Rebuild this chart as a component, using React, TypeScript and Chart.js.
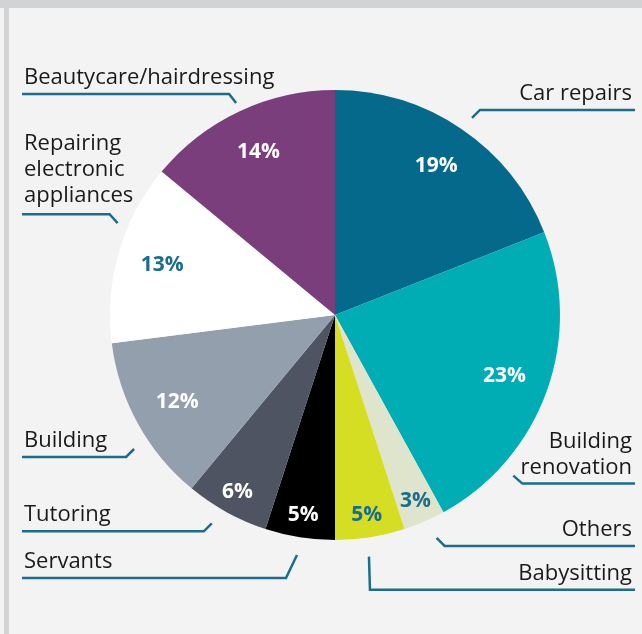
import React, { useEffect, useRef } from "react";
import { Chart, registerables } from "chart.js";

Chart.register(...registerables);

const categories = [
  "Car repairs",
  "Building renovation",
  "Others",
  "Babysitting",
  "Servants",
  "Tutoring",
  "Building",
  "Repairing electronic appliances",
  "Beautycare/hairdressing",
];
const shares = [19, 23, 3, 5, 5, 6, 12, 13, 14];
const sliceColors = [
  "#05698c",
  "#00adb4",
  "#dfe4cd",
  "#d5de22",
  "#000000",
  "#4e5461",
  "#949fae",
  "#ffffff",
  "#7b3e7d",
];
const TEAL = "#1b6d8d";
const pctColors = ["#fff", "#fff", TEAL, TEAL, "#fff", "#fff", "#fff", TEAL, "#fff"];
const labelLines = [
  ["Car repairs"],
  ["Building", "renovation"],
  ["Others"],
  ["Babysitting"],
  ["Servants"],
  ["Tutoring"],
  ["Building"],
  ["Repairing", "electronic", "appliances"],
  ["Beautycare/hairdressing"],
];

// leader-line layout (annotation geometry relative to the pie)
const leaderLayout = [
  { side: "right", angle: 34.8, gap: 15, dx: 8, dy: -8 },
  { side: "right", angle: 132, gap: 15, dx: 9, dy: 8 },
  { side: "right", angle: 155.5, gap: 20, dx: 8, dy: 8 },
  { side: "right", angle: 172, gap: 19, dx: 1, dy: 33 },
  { side: "left", angle: 189, gap: 18, dx: -11, dy: 23 },
  { side: "left", angle: 210.6, gap: 17, dx: -8, dy: 8 },
  { side: "left", angle: 236.3, gap: 16.5, dx: -8, dy: 8 },
  { side: "left", angle: 292.9, gap: 11, dx: -8, dy: -9 },
  { side: "left", angle: 335, gap: 9, dx: -7, dy: -9 },
];

const FONT = "'Open Sans', sans-serif";

const annotate = {
  id: "annotate",
  afterDatasetsDraw(chart: any) {
    const ctx = chart.ctx;
    const meta = chart.getDatasetMeta(0);
    ctx.save();
    // percentage labels
    meta.data.forEach((arc: any, i: number) => {
      const mid = (arc.startAngle + arc.endAngle) / 2;
      const frac = shares[i] >= 12 ? 0.8 : 0.9;
      const r = arc.outerRadius * frac;
      const x = arc.x + Math.cos(mid) * r;
      const y = arc.y + Math.sin(mid) * r;
      ctx.font = `700 21px ${FONT}`;
      ctx.fillStyle = pctColors[i];
      ctx.textAlign = "center";
      ctx.textBaseline = "middle";
      ctx.fillText(shares[i] + "%", x, y);
    });
    // leader lines and category labels
    const arc0 = meta.data[0];
    const cx = arc0.x;
    const cy = arc0.y;
    const leftX = 22;
    const rightX = 635;
    leaderLayout.forEach((L, i) => {
      const R = arc0.outerRadius + L.gap;
      const th = (L.angle * Math.PI) / 180;
      const ex = cx + Math.sin(th) * R;
      const ey = cy - Math.cos(th) * R;
      const kx = ex + L.dx;
      const ky = ey + L.dy;
      const endX = L.side === "left" ? leftX : rightX;
      ctx.strokeStyle = TEAL;
      ctx.lineWidth = 2.5;
      ctx.lineCap = "butt";
      ctx.lineJoin = "miter";
      ctx.beginPath();
      ctx.moveTo(ex, ey);
      ctx.lineTo(kx, ky);
      ctx.lineTo(endX, ky);
      ctx.stroke();
      const lines = labelLines[i];
      ctx.font = `400 22px ${FONT}`;
      ctx.fillStyle = "#1a1a1a";
      ctx.textBaseline = "alphabetic";
      ctx.textAlign = L.side === "left" ? "left" : "right";
      const tx = L.side === "left" ? 24 : 632;
      const lastBase = ky - (lines.length > 2 ? 12 : 10);
      lines.forEach((t, j) => {
        ctx.fillText(t, tx, lastBase - (lines.length - 1 - j) * 26);
      });
    });
    ctx.restore();
  },
};

export default function App() {
  const ref = useRef<HTMLCanvasElement | null>(null);
  useEffect(() => {
    if (!ref.current) return;
    const chart = new Chart(ref.current, {
      type: "pie",
      data: {
        labels: categories,
        datasets: [
          {
            data: shares,
            backgroundColor: sliceColors,
            borderWidth: 0,
          },
        ],
      },
      options: {
        responsive: false,
        animation: false,
        layout: { padding: { left: 110, right: 82, top: 90, bottom: 94 } },
        plugins: {
          legend: { display: false },
          tooltip: { enabled: false },
        },
      },
      plugins: [annotate],
    });
    return () => chart.destroy();
  }, []);
  return (
    <div
      style={{
        position: "absolute",
        left: 0,
        top: 0,
        width: 642,
        height: 634,
        background: "#f3f3f3",
        overflow: "hidden",
      }}
    >
      <div style={{ position: "absolute", left: 0, top: 0, width: 642, height: 8, background: "#d2d3d5" }} />
      <div style={{ position: "absolute", left: 4, top: 8, width: 5, height: 626, background: "#d2d3d5" }} />
      <canvas ref={ref} width={642} height={634} style={{ position: "absolute", left: 0, top: 0 }} />
    </div>
  );
}
